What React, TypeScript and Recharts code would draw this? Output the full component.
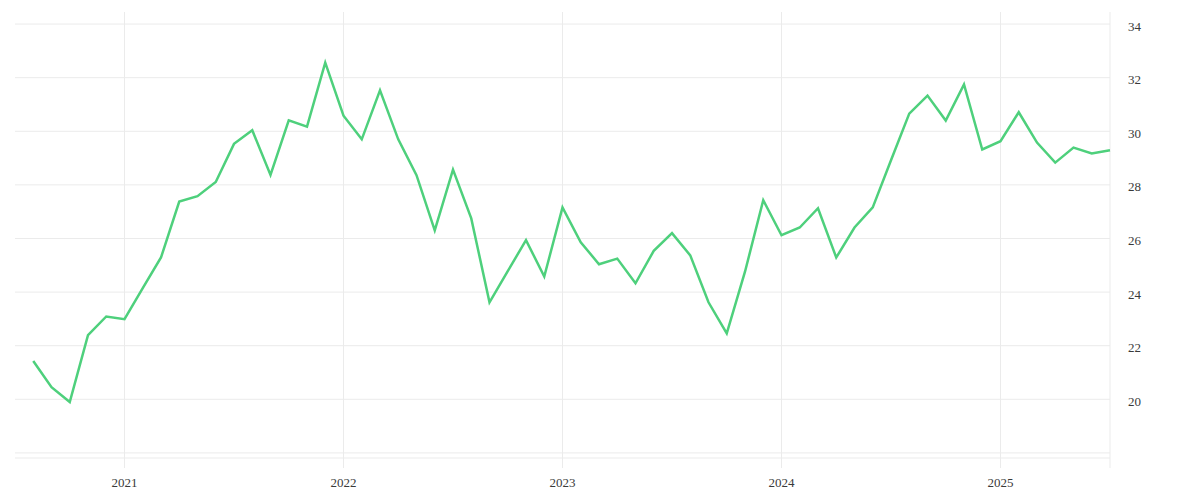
import { LineChart, Line, XAxis, YAxis, CartesianGrid } from 'recharts'

// monthly observations, Aug 2020 .. Jul 2025
const months = [
  '2020-08', '2020-09', '2020-10', '2020-11', '2020-12',
  '2021-01', '2021-02', '2021-03', '2021-04', '2021-05', '2021-06',
  '2021-07', '2021-08', '2021-09', '2021-10', '2021-11', '2021-12',
  '2022-01', '2022-02', '2022-03', '2022-04', '2022-05', '2022-06',
  '2022-07', '2022-08', '2022-09', '2022-10', '2022-11', '2022-12',
  '2023-01', '2023-02', '2023-03', '2023-04', '2023-05', '2023-06',
  '2023-07', '2023-08', '2023-09', '2023-10', '2023-11', '2023-12',
  '2024-01', '2024-02', '2024-03', '2024-04', '2024-05', '2024-06',
  '2024-07', '2024-08', '2024-09', '2024-10', '2024-11', '2024-12',
  '2025-01', '2025-02', '2025-03', '2025-04', '2025-05', '2025-06',
  '2025-07',
]

const values = [
  21.43, 20.45, 19.9, 22.39, 23.09,
  22.99, 24.15, 25.29, 27.38, 27.58, 28.11,
  29.53, 30.04, 28.37, 30.41, 30.17, 32.56,
  30.58, 29.7, 31.53, 29.7, 28.36, 26.3,
  28.57, 26.75, 23.62, 24.78, 25.94, 24.58,
  27.16, 25.86, 25.04, 25.25, 24.33, 25.54,
  26.2, 25.37, 23.62, 22.46, 24.76, 27.43,
  26.12, 26.41, 27.13, 25.29, 26.41, 27.16,
  28.92, 30.66, 31.33, 30.4, 31.75, 29.32,
  29.63, 30.71, 29.58, 28.83, 29.39, 29.17,
  29.29,
]

const yearTicks = ['2021', '2022', '2023', '2024', '2025']
const yTicks = [18, 20, 22, 24, 26, 28, 30, 32, 34]

// months counted from Jul 2020
const monthIndex = (s: string) => {
  const [y, m] = s.split('-').map(Number)
  return (y - 2020) * 12 + (m - 7)
}

const data = months.map((m, i) => ({ t: monthIndex(m), v: values[i] }))
const xTicks = [...yearTicks.map((y) => monthIndex(`${y}-01`)), monthIndex('2025-07')]

const grid = '#ebebeb'
const tickStyle = { fill: '#3a3a3a', fontSize: 13, fontFamily: '"Liberation Serif", serif' }

export default function App() {
  return (
    <LineChart width={1184} height={484} data={data} margin={{ top: 4, right: 0, bottom: 0, left: 7 }}>
      <CartesianGrid stroke={grid} strokeWidth={1} horizontalValues={yTicks} verticalValues={xTicks} />
      <XAxis
        dataKey="t"
        type="number"
        domain={[0, 60]}
        ticks={xTicks}
        interval={0}
        height={34}
        tickSize={10}
        tickMargin={10}
        axisLine={{ stroke: grid }}
        tickLine={{ stroke: grid }}
        tick={tickStyle}
        tickFormatter={(v: number) => (v === 60 ? '' : String(2020 + Math.floor((v + 6) / 12)))}
      />
      <YAxis
        orientation="right"
        type="number"
        domain={[17.81, 34.45]}
        ticks={yTicks}
        interval={0}
        width={82}
        axisLine={false}
        tickLine={false}
        tickSize={0}
        tickMargin={18}
        tick={{ ...tickStyle, dy: 2 }}
        tickFormatter={(v: number) => (v === 18 ? '' : String(v))}
      />
      <Line
        type="linear"
        dataKey="v"
        stroke="#4ed07c"
        strokeWidth={2.5}
        dot={false}
        isAnimationActive={false}
      />
    </LineChart>
  )
}
